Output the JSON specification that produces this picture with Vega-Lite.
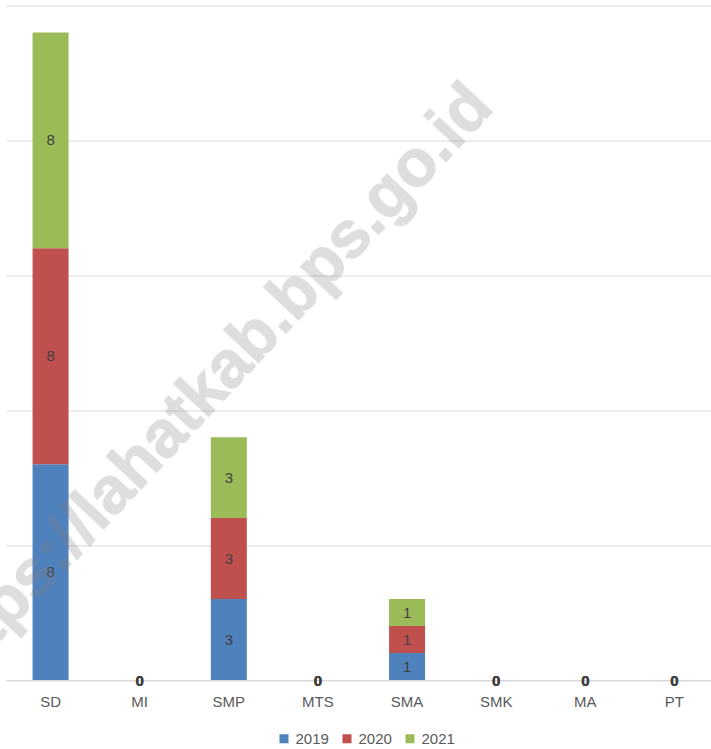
{
  "$schema": "https://vega.github.io/schema/vega-lite/v6.json",
  "width": 713,
  "height": 674.5,
  "autosize": "none",
  "padding": {"left": 6, "top": 5.5, "right": 0, "bottom": 69},
  "background": "white",
  "config": {"view": {"stroke": null}, "font": "Liberation Sans"},
  "data": {
    "values": [
      {"jenjang": "SD", "tahun": "2019", "nilai": 8},
      {"jenjang": "SD", "tahun": "2020", "nilai": 8},
      {"jenjang": "SD", "tahun": "2021", "nilai": 8},
      {"jenjang": "MI", "tahun": "2019", "nilai": 0},
      {"jenjang": "MI", "tahun": "2020", "nilai": 0},
      {"jenjang": "MI", "tahun": "2021", "nilai": 0},
      {"jenjang": "SMP", "tahun": "2019", "nilai": 3},
      {"jenjang": "SMP", "tahun": "2020", "nilai": 3},
      {"jenjang": "SMP", "tahun": "2021", "nilai": 3},
      {"jenjang": "MTS", "tahun": "2019", "nilai": 0},
      {"jenjang": "MTS", "tahun": "2020", "nilai": 0},
      {"jenjang": "MTS", "tahun": "2021", "nilai": 0},
      {"jenjang": "SMA", "tahun": "2019", "nilai": 1},
      {"jenjang": "SMA", "tahun": "2020", "nilai": 1},
      {"jenjang": "SMA", "tahun": "2021", "nilai": 1},
      {"jenjang": "SMK", "tahun": "2019", "nilai": 0},
      {"jenjang": "SMK", "tahun": "2020", "nilai": 0},
      {"jenjang": "SMK", "tahun": "2021", "nilai": 0},
      {"jenjang": "MA", "tahun": "2019", "nilai": 0},
      {"jenjang": "MA", "tahun": "2020", "nilai": 0},
      {"jenjang": "MA", "tahun": "2021", "nilai": 0},
      {"jenjang": "PT", "tahun": "2019", "nilai": 0},
      {"jenjang": "PT", "tahun": "2020", "nilai": 0},
      {"jenjang": "PT", "tahun": "2021", "nilai": 0}
    ]
  },
  "encoding": {
    "x": {
      "field": "jenjang",
      "type": "nominal",
      "sort": ["SD", "MI", "SMP", "MTS", "SMA", "SMK", "MA", "PT"],
      "scale": {"paddingInner": 0.596, "paddingOuter": 0.298},
      "axis": {
        "title": null,
        "labelAngle": 0,
        "ticks": false,
        "tickSize": 0,
        "labelPadding": 14,
        "labelFontSize": 15,
        "labelColor": "#595959",
        "domainColor": "#d9d9d9",
        "grid": false
      }
    }
  },
  "layer": [
    {
      "mark": {"type": "bar"},
      "encoding": {
        "y": {
          "field": "nilai",
          "type": "quantitative",
          "stack": "zero",
          "scale": {"domain": [0, 25], "nice": false},
          "axis": {
            "title": null,
            "domain": false,
            "ticks": false,
            "labels": false,
            "grid": true,
            "values": [0, 5, 10, 15, 20, 25],
            "gridColor": "#d9d9d9",
            "gridWidth": 1
          }
        },
        "color": {
          "field": "tahun",
          "type": "nominal",
          "scale": {"domain": ["2019", "2020", "2021"], "range": ["#4f81bd", "#c0504d", "#9bbb59"]},
          "legend": {
            "title": null,
            "orient": "none",
            "legendX": 270.5,
            "legendY": 725.5,
            "direction": "horizontal",
            "symbolType": "square",
            "symbolSize": 81,
            "symbolStrokeWidth": 0,
            "labelFontSize": 15,
            "labelColor": "#595959",
            "labelOffset": 4,
            "columnPadding": 10
          }
        },
        "order": {"field": "tahun", "sort": "ascending"}
      }
    },
    {
      "transform": [
        {"filter": "datum.nilai > 0"},
        {"stack": "nilai", "groupby": ["jenjang"], "sort": [{"field": "tahun", "order": "ascending"}], "as": ["y0", "y1"]},
        {"fold": ["y0", "y1"], "as": ["ujung", "posisi"]}
      ],
      "mark": {"type": "text", "fontSize": 15, "color": "#404040", "baseline": "middle", "align": "center"},
      "encoding": {
        "y": {"aggregate": "mean", "field": "posisi", "type": "quantitative"},
        "detail": {"field": "tahun"},
        "text": {"field": "nilai", "type": "quantitative"}
      }
    },
    {
      "transform": [{"filter": "datum.nilai == 0"}],
      "mark": {"type": "text", "fontSize": 15, "fontWeight": "bold", "color": "#404040", "baseline": "middle", "align": "center", "dy": 1},
      "encoding": {
        "y": {"field": "nilai", "type": "quantitative", "stack": null},
        "text": {"field": "nilai", "type": "quantitative"}
      }
    },
    {
      "data": {"values": [{"teks": "https://lahatkab.bps.go.id"}]},
      "mark": {"type": "text", "fontSize": 66, "fontWeight": "bold", "fill": "#808080", "stroke": "#808080", "strokeWidth": 1.2, "opacity": 0.25, "angle": -47, "baseline": "middle", "align": "center", "dx": -30},
      "encoding": {
        "x": {"datum": "SMP"},
        "y": {"datum": 11.66},
        "text": {"field": "teks"}
      }
    }
  ]
}
